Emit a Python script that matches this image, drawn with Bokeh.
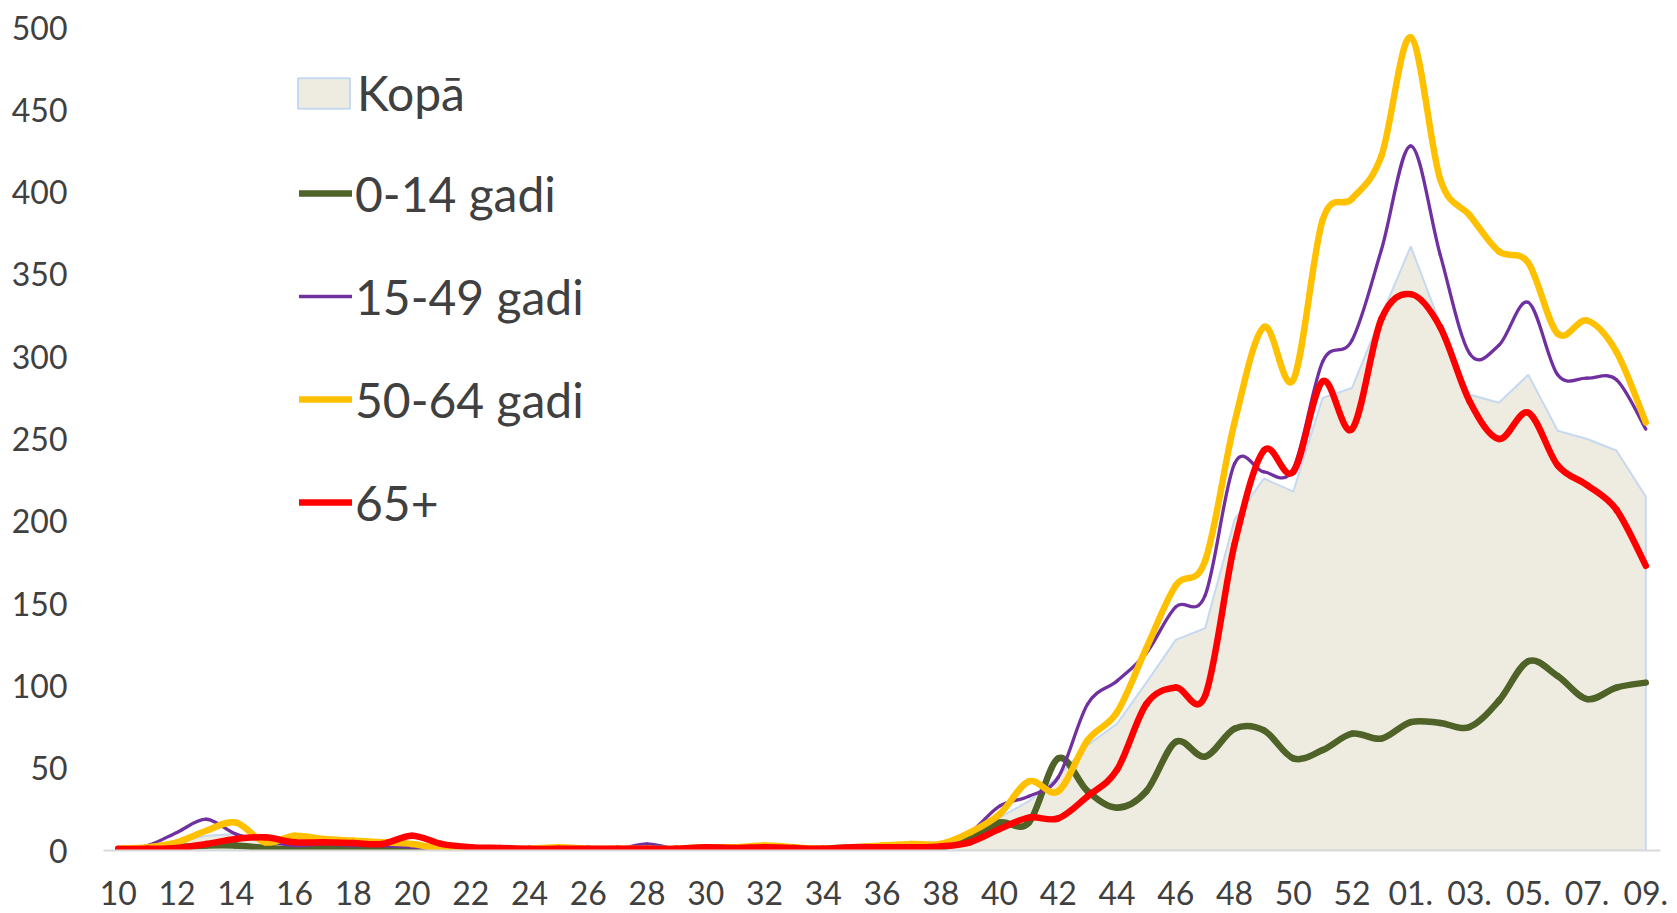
from bokeh.plotting import figure
from bokeh.models import FixedTicker, Legend, LegendItem, ColumnDataSource, Range1d
from bokeh.embed import file_html
from bokeh.resources import INLINE

# ---- data -------------------------------------------------------------
weeks = ["10", "11", "12", "13", "14", "15", "16", "17", "18", "19",
         "20", "21", "22", "23", "24", "25", "26", "27", "28", "29",
         "30", "31", "32", "33", "34", "35", "36", "37", "38", "39",
         "40", "41", "42", "43", "44", "45", "46", "47", "48", "49",
         "50", "51", "52", "53", "01.", "02.", "03.", "04.", "05.", "06.",
         "07.", "08.", "09."]

kopa = [1, 2, 5, 9, 10, 6, 5, 4, 3, 3,
        4, 2, 1, 1, 0.5, 1, 0.5, 0.5, 2, 1,
        1, 1, 2, 1, 1, 2, 2, 2, 3, 9,
        20, 30, 45, 64, 77, 102, 128, 135, 201, 226,
        218, 275, 281, 325, 367, 320, 277, 272, 289, 255,
        250, 243, 215]

g0_14 = [0.5, 1, 2, 3, 3, 1.5, 1, 2, 1, 1,
         1, 0.5, 0.5, 0.5, 0.3, 0.5, 0.3, 0.3, 0.5, 0.5,
         1, 1, 1, 1, 1, 2, 1.5, 2, 2, 7,
         17, 17, 56, 36, 26, 36, 66, 57, 74, 73,
         56, 61, 71, 68, 78, 77.5, 75, 91, 115, 106,
         92, 99, 102]

g15_49 = [1, 3, 11, 19, 10, 6, 3, 4, 3, 3,
          2, 1, 1, 1, 0.5, 0.5, 0.5, 1, 4, 1,
          1, 1, 2, 1, 1, 3, 2, 2, 3, 11,
          27, 33, 44.5, 89, 103, 120, 148, 155, 235, 230,
          232, 297, 310, 365, 428, 362, 302, 307, 333, 289,
          287, 286, 256]

g50_64 = [1, 2, 5, 12, 17, 5, 9, 7, 6, 5,
          4, 1, 1, 1, 1, 2, 1, 1, 1, 1,
          2, 2, 3, 2, 1, 2, 3, 4, 4, 11,
          22, 42, 36, 67, 84, 123, 161, 176, 260, 318,
          286, 383, 396, 422, 494, 408, 386, 364, 357, 314,
          322, 303, 260]

g65 = [1, 1, 1.5, 4, 7, 8, 5, 5, 4.5, 4,
       9, 4, 2, 1.5, 1, 1, 1, 1, 1, 1,
       2, 1.5, 2, 1.5, 1, 2, 2, 2, 2.5, 5,
       13, 20, 19.5, 33, 49, 89, 99, 94, 186, 243,
       230, 285, 256, 323, 338, 318, 273, 250, 266, 234,
       222, 207, 173]

series_names = ["Kopā", "0-14 gadi", "15-49 gadi", "50-64 gadi", "65+"]
y_ticks = [0, 50, 100, 150, 200, 250, 300, 350, 400, 450, 500]

# ---- helpers -----------------------------------------------------------
idx = list(range(len(weeks)))


def smooth_source(vals):
    """Cubic Bezier segments (Catmull-Rom style, like Excel smoothed lines)."""
    n = len(vals)
    d = dict(x0=[], y0=[], x1=[], y1=[], cx0=[], cy0=[], cx1=[], cy1=[])
    for i in range(n - 1):
        a = max(i - 1, 0)
        b = min(i + 2, n - 1)
        d["x0"].append(idx[i]); d["y0"].append(vals[i])
        d["x1"].append(idx[i + 1]); d["y1"].append(vals[i + 1])
        d["cx0"].append(idx[i] + (idx[i + 1] - idx[a]) / 6.0)
        d["cy0"].append(vals[i] + (vals[i + 1] - vals[a]) / 6.0)
        d["cx1"].append(idx[i + 1] - (idx[b] - idx[i]) / 6.0)
        d["cy1"].append(vals[i + 1] - (vals[b] - vals[i]) / 6.0)
    return ColumnDataSource(d)


FONT = "Lato"
TXT = "#404040"

p = figure(width=1677, height=913, output_backend="svg", toolbar_location=None,
           x_range=Range1d(-0.5, len(weeks) - 0.5), y_range=Range1d(0, 500),
           min_border_left=103, min_border_right=17, min_border_top=27,
           min_border_bottom=63)
p.outline_line_color = None
p.background_fill_color = "white"
p.xgrid.visible = False
p.ygrid.visible = False

# Kopā area (straight segments)
r_kopa = p.patch(x=idx + [idx[-1], idx[0]], y=kopa + [0, 0],
                 fill_color="#EEECE1", line_color="#C6D9F1", line_width=2)

styles = [
    (g0_14, "#4F6228", 6.5),
    (g15_49, "#7030A0", 3.3),
    (g50_64, "#FFC000", 6.5),
    (g65, "#FF0000", 6.5),
]
line_renderers = []
for vals, col, lw in styles:
    r = p.bezier(x0="x0", y0="y0", x1="x1", y1="y1", cx0="cx0", cy0="cy0",
                 cx1="cx1", cy1="cy1", source=smooth_source(vals),
                 line_color=col, line_width=lw, line_cap="round")
    line_renderers.append(r)

# axes
xa = p.xaxis[0]
xa.ticker = FixedTicker(ticks=idx[::2])
xa.major_label_overrides = {i: weeks[i] for i in idx[::2]}
xa.axis_line_color = "#D9D9D9"
xa.axis_line_width = 2
xa.major_tick_line_color = None
xa.minor_tick_line_color = None
xa.major_label_standoff = 24
xa.major_label_text_font = FONT
xa.major_label_text_font_size = "32px"
xa.major_label_text_color = TXT

ya = p.yaxis[0]
ya.ticker = FixedTicker(ticks=y_ticks)
ya.axis_line_color = None
ya.major_tick_line_color = None
ya.minor_tick_line_color = None
ya.major_label_standoff = 30
ya.major_label_text_font = FONT
ya.major_label_text_font_size = "32px"
ya.major_label_text_color = TXT

# legends
common = dict(padding=0, margin=0, border_line_color=None,
              background_fill_alpha=0, label_text_font=FONT,
              label_text_font_size="48px", label_text_color=TXT)

leg_k = Legend(items=[LegendItem(label=series_names[0], renderers=[r_kopa])],
               location=(188, 729), glyph_width=65, glyph_height=38,
               label_standoff=1, **common)
leg_l = Legend(items=[LegendItem(label=series_names[i + 1], renderers=[r])
                      for i, r in enumerate(line_renderers)],
               location=(196, 318), glyph_width=53, glyph_height=60,
               label_height=60, spacing=43, label_standoff=3, **common)
p.add_layout(leg_k)
p.add_layout(leg_l)

open("out.html", "w").write(file_html(p, INLINE))
